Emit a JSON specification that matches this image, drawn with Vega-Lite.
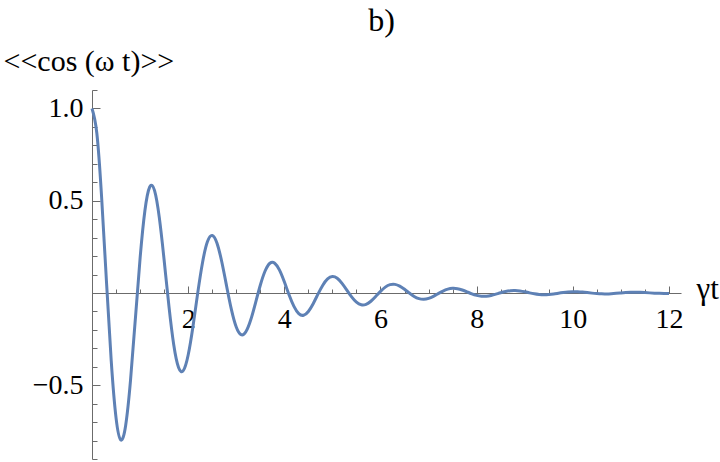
{
  "$schema": "https://vega.github.io/schema/vega-lite/v6.json",
  "width": 589,
  "height": 369,
  "autosize": {"type": "none"},
  "padding": {"left": 92, "top": 90, "right": 39, "bottom": 3},
  "background": "white",
  "title": {"text": "b)", "font": "Liberation Serif", "fontSize": 32, "fontWeight": "normal", "color": "black", "anchor": "middle", "offset": -17, "baseline": "alphabetic", "dx": -5},
  "config": {"view": {"stroke": null}},
  "data": {"values": [
    {"t": 0.0, "c": 1.0}, {"t": 0.1, "c": 0.8671}, {"t": 0.2, "c": 0.5186}, {"t": 0.3, "c": 0.0654}, {"t": 0.4, "c": -0.3682},
    {"t": 0.5, "c": -0.6768}, {"t": 0.6, "c": -0.7971}, {"t": 0.7, "c": -0.7181}, {"t": 0.8, "c": -0.4771}, {"t": 0.9, "c": -0.1464},
    {"t": 1.0, "c": 0.1875}, {"t": 1.1, "c": 0.4456}, {"t": 1.2, "c": 0.5743}, {"t": 1.3, "c": 0.5556}, {"t": 1.4, "c": 0.408},
    {"t": 1.5, "c": 0.1785}, {"t": 1.6, "c": -0.0713}, {"t": 1.7, "c": -0.2804}, {"t": 1.8, "c": -0.4037}, {"t": 1.9, "c": -0.4203},
    {"t": 2.0, "c": -0.3364}, {"t": 2.1, "c": -0.1814}, {"t": 2.2, "c": 0.0016}, {"t": 2.3, "c": 0.1668}, {"t": 2.4, "c": 0.277},
    {"t": 2.5, "c": 0.3115}, {"t": 2.6, "c": 0.2695}, {"t": 2.7, "c": 0.1675}, {"t": 2.8, "c": 0.0367}, {"t": 2.9, "c": -0.0907},
    {"t": 3.0, "c": -0.1848}, {"t": 3.1, "c": -0.2263}, {"t": 3.2, "c": -0.2107}, {"t": 3.3, "c": -0.147}, {"t": 3.4, "c": -0.0548},
    {"t": 3.5, "c": 0.0416}, {"t": 3.6, "c": 0.1189}, {"t": 3.7, "c": 0.1609}, {"t": 3.8, "c": 0.1612}, {"t": 3.9, "c": 0.1234},
    {"t": 4.0, "c": 0.0602}, {"t": 4.1, "c": -0.0112}, {"t": 4.2, "c": -0.0731}, {"t": 4.3, "c": -0.112}, {"t": 4.4, "c": -0.1208},
    {"t": 4.5, "c": -0.1003}, {"t": 4.6, "c": -0.0582}, {"t": 4.7, "c": -0.0064}, {"t": 4.8, "c": 0.042}, {"t": 4.9, "c": 0.0758},
    {"t": 5.0, "c": 0.0887}, {"t": 5.1, "c": 0.0794}, {"t": 5.2, "c": 0.0523}, {"t": 5.3, "c": 0.0156}, {"t": 5.4, "c": -0.0214},
    {"t": 5.5, "c": -0.0498}, {"t": 5.6, "c": -0.0638}, {"t": 5.7, "c": -0.0614}, {"t": 5.8, "c": -0.0449}, {"t": 5.9, "c": -0.0193},
    {"t": 6.0, "c": 0.0084}, {"t": 6.1, "c": 0.0314}, {"t": 6.2, "c": 0.0449}, {"t": 6.3, "c": 0.0465}, {"t": 6.4, "c": 0.037},
    {"t": 6.5, "c": 0.0197}, {"t": 6.6, "c": -0.0005}, {"t": 6.7, "c": -0.0188}, {"t": 6.8, "c": -0.0309}, {"t": 6.9, "c": -0.0345},
    {"t": 7.0, "c": -0.0297}, {"t": 7.1, "c": -0.0184}, {"t": 7.2, "c": -0.0038}, {"t": 7.3, "c": 0.0103}, {"t": 7.4, "c": 0.0206},
    {"t": 7.5, "c": 0.0251}, {"t": 7.6, "c": 0.0233}, {"t": 7.7, "c": 0.0161}, {"t": 7.8, "c": 0.0059}, {"t": 7.9, "c": -0.0048},
    {"t": 8.0, "c": -0.0133}, {"t": 8.1, "c": -0.0179}, {"t": 8.2, "c": -0.0179}, {"t": 8.3, "c": -0.0136}, {"t": 8.4, "c": -0.0065},
    {"t": 8.5, "c": 0.0014}, {"t": 8.6, "c": 0.0082}, {"t": 8.7, "c": 0.0125}, {"t": 8.8, "c": 0.0134}, {"t": 8.9, "c": 0.011},
    {"t": 9.0, "c": 0.0064}, {"t": 9.1, "c": 0.0006}, {"t": 9.2, "c": -0.0048}, {"t": 9.3, "c": -0.0084}, {"t": 9.4, "c": -0.0098},
    {"t": 9.5, "c": -0.0087}, {"t": 9.6, "c": -0.0058}, {"t": 9.7, "c": -0.0016}, {"t": 9.8, "c": 0.0024}, {"t": 9.9, "c": 0.0056},
    {"t": 10.0, "c": 0.007}, {"t": 10.1, "c": 0.0068}, {"t": 10.2, "c": 0.005}, {"t": 10.3, "c": 0.0021}, {"t": 10.4, "c": -0.001},
    {"t": 10.5, "c": -0.0035}, {"t": 10.6, "c": -0.005}, {"t": 10.7, "c": -0.0052}, {"t": 10.8, "c": -0.0041}, {"t": 10.9, "c": -0.0022},
    {"t": 11.0, "c": 0.0001}, {"t": 11.1, "c": 0.0021}, {"t": 11.2, "c": 0.0034}, {"t": 11.3, "c": 0.0038}, {"t": 11.4, "c": 0.0033},
    {"t": 11.5, "c": 0.002}, {"t": 11.6, "c": 0.0004}, {"t": 11.7, "c": -0.0012}, {"t": 11.8, "c": -0.0023}, {"t": 11.9, "c": -0.0027},
    {"t": 12.0, "c": -0.0026}
  ]},
  "mark": {"type": "line", "interpolate": "natural", "color": "#5E81B5", "strokeWidth": 3},
  "encoding": {
    "x": {
      "field": "t", "type": "quantitative",
      "scale": {"domain": [0, 12.25], "nice": false, "zero": false},
      "axis": {
        "orient": "bottom", "offset": -166,
        "values": [0.5, 1, 1.5, 2, 2.5, 3, 3.5, 4, 4.5, 5, 5.5, 6, 6.5, 7, 7.5, 8, 8.5, 9, 9.5, 10, 10.5, 11, 11.5, 12],
        "labelExpr": "datum.value % 2 == 0 ? format(datum.value, 'd') : ''",
        "tickSize": {"condition": {"test": "datum.value % 2 == 0", "value": -7}, "value": -4},
        "tickColor": "#6b6b6b", "tickWidth": 1,
        "domainColor": "#6b6b6b", "domainWidth": 1,
        "grid": false,
        "labelFont": "Liberation Serif", "labelFontSize": 28, "labelColor": "black",
        "labelBaseline": "alphabetic", "labelPadding": 41, "labelFlush": false, "labelOverlap": false,
        "title": "γt", "titleFont": "Liberation Serif", "titleFontSize": 31, "titleFontWeight": "normal", "titleColor": "black",
        "titleAnchor": "start", "titleAlign": "left", "titleBaseline": "alphabetic", "titleX": 604, "titleY": 5, "titleAngle": 0
      }
    },
    "y": {
      "field": "c", "type": "quantitative",
      "scale": {"domain": [-0.9, 1.1], "nice": false, "zero": false},
      "axis": {
        "orient": "left",
        "values": [-0.9, -0.8, -0.7, -0.6, -0.5, -0.4, -0.3, -0.2, -0.1, 0.1, 0.2, 0.3, 0.4, 0.5, 0.6, 0.7, 0.8, 0.9, 1, 1.1],
        "labelExpr": "datum.value == 1 || datum.value == 0.5 || datum.value == -0.5 ? format(datum.value, '.1f') : ''",
        "tickSize": {"condition": {"test": "datum.value == 1 || datum.value == 0.5 || datum.value == -0.5", "value": -8}, "value": -5},
        "tickColor": "#6b6b6b", "tickWidth": 1,
        "domainColor": "#6b6b6b", "domainWidth": 1,
        "grid": false,
        "labelFont": "Liberation Serif", "labelFontSize": 28, "labelColor": "black",
        "labelPadding": 17, "labelFlush": false, "labelOverlap": false, "labelBaseline": "middle",
        "title": "<<cos (ω t)>>", "titleFont": "Liberation Serif", "titleFontSize": 30, "titleFontWeight": "normal", "titleColor": "black",
        "titleAngle": 0, "titleAlign": "left", "titleBaseline": "alphabetic", "titleX": -89, "titleY": -20
      }
    }
  }
}
